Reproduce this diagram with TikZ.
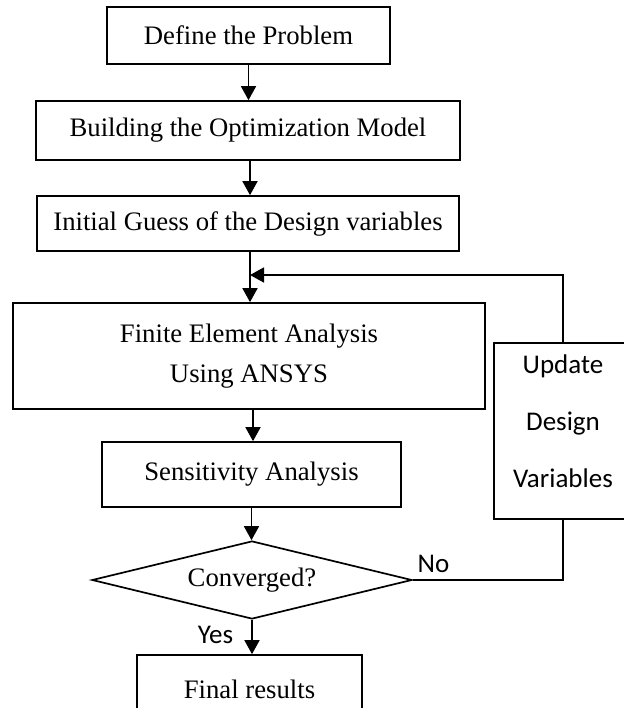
\documentclass[tikz,border=0pt]{standalone}
\usepackage{fontspec}
\setmainfont{Liberation Serif}
\newfontfamily\calibrifont{Carlito}
\usetikzlibrary{arrows.meta,shapes.geometric}
\tikzset{
  box/.style={draw, line width=0.85pt, rectangle, inner sep=0pt, align=center,
    font=\fontsize{13.35}{20}\selectfont},
  decision/.style={draw, line width=0.85pt, diamond, shape aspect=4.1, inner sep=0pt,
    minimum width=160pt, minimum height=39pt, font=\fontsize{13.35}{20}\selectfont},
  sidebox/.style={draw, line width=0.85pt, rectangle, inner sep=0pt},
  sidetext/.style={inner sep=0pt, align=center, font=\calibrifont\fontsize{13.5}{28.5}\selectfont},
  lbl/.style={inner sep=0pt, font=\calibrifont\fontsize{13.5}{16}\selectfont},
  arr/.style={line width=0.85pt, -{Triangle[length=7pt,width=7.5pt]}},
  line/.style={line width=0.85pt}
}
\begin{document}
\begin{tikzpicture}[x=0.5pt,y=-0.5pt]
\path[use as bounding box, clip] (0,0) rectangle (624,708);
\node[box, minimum width=141.5pt, minimum height=28.5pt] (b1) at (248.5,35.5) {Define the Problem};
\node[box, minimum width=212pt, minimum height=29.5pt] (b2) at (248,130.5) {Building the Optimization Model};
\node[box, minimum width=211pt, minimum height=27.5pt] (b3) at (248,223.5) {Initial Guess of the Design variables};
\node[box, minimum width=236pt, minimum height=53pt] (fea) at (249,356) {Finite Element Analysis\\Using ANSYS};
\node[box, minimum width=149.5pt, minimum height=32.5pt] (sens) at (251.5,474.5) {Sensitivity Analysis};
\node[decision] (dia) at (252,580) {Converged?};
\node[box, minimum width=112.5pt, minimum height=34pt] (fin) at (249.5,689) {Final results};
\node[sidebox, minimum width=69pt, minimum height=88pt,
  label={[sidetext, yshift=5pt]center:Update\\Design\\Variables}] (upd) at (563,431) {};
\coordinate (fb) at (250,275);

\draw[arr] (b1.south) -- (b1.south |- b2.north);
\draw[arr] (b2.south) ++(2,0) coordinate (s2) -- (s2 |- b3.north);
\draw[arr] (b3.south) ++(2,0) coordinate (s3) -- (s3 |- fea.north);
\draw[arr] (upd.north) |- (fb);
\draw[arr] (fea.south) ++(4,0) coordinate (s4) -- (s4 |- sens.north);
\draw[arr] (sens.south) -- (sens.south |- dia.north);
\draw[arr] (dia.south) -- node[lbl, anchor=east, xshift=-9pt, yshift=1pt] {Yes} (dia.south |- fin.north);
\draw[line] (upd.south) |- (dia.east) node[lbl, anchor=base west, xshift=2pt, yshift=4pt] {No};
\end{tikzpicture}
\end{document}
